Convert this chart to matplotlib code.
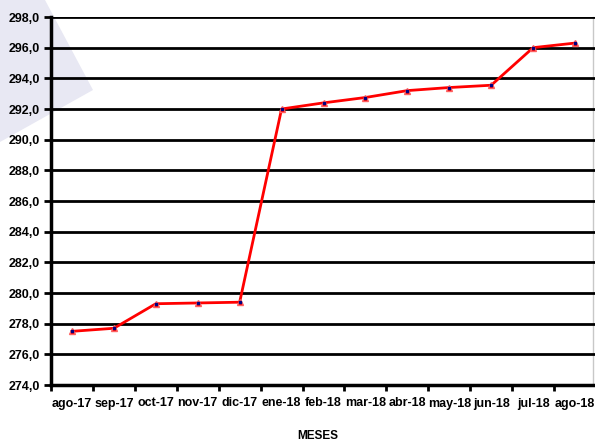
import matplotlib.pyplot as plt
from matplotlib.patches import Polygon

meses = ["ago-17", "sep-17", "oct-17", "nov-17", "dic-17", "ene-18", "feb-18",
         "mar-18", "abr-18", "may-18", "jun-18", "jul-18", "ago-18"]
valores = [277.5, 277.7, 279.3, 279.35, 279.4, 292.0, 292.4,
           292.75, 293.2, 293.4, 293.55, 296.0, 296.3]
y_ticks = [274, 276, 278, 280, 282, 284, 286, 288, 290, 292, 294, 296, 298]

plt.rcParams['font.family'] = ['Liberation Sans', 'DejaVu Sans']

fig = plt.figure(figsize=(5.95, 4.41), dpi=100)

# decoracion lila arriba a la izquierda
W, H = 595, 441
pts = [(0, 0), (45, 0), (93, 90), (0, 142)]
fig.patches.append(Polygon([(x / W, 1 - y / H) for x, y in pts], closed=True,
                           transform=fig.transFigure, facecolor="#e8e8f3",
                           edgecolor="none", zorder=-1))

ax = fig.add_axes([51 / W, 1 - 385 / H, 545 / W, 368 / H])
ax.set_zorder(2)
ax.patch.set_alpha(0)

x = list(range(len(meses)))
ax.plot(x, valores, color="red", lw=2, marker="^", ms=5,
        markerfacecolor="red", markeredgecolor="#ff6060", zorder=3)
ax.plot(x, valores, ls="none", marker="s", ms=1.5, color="#000080", zorder=4)

ax.set_ylim(274, 298)
ax.set_yticks(y_ticks)
ax.set_yticklabels([f"{v:.1f}".replace(".", ",") for v in y_ticks],
                   fontsize=9, fontweight="bold")
ax.set_xlim(-0.5, len(meses) - 0.5)
ax.set_xticks(x)
ax.set_xticklabels(meses, fontsize=9, fontweight="bold")
ax.set_xticks([i - 0.5 for i in range(len(meses) + 1)], minor=True)
ax.tick_params(axis="x", which="major", length=0, pad=9)
ax.tick_params(axis="x", which="minor", length=4, width=2, direction="out")
ax.tick_params(axis="y", length=5, width=2, direction="out", pad=3)

ax.grid(axis="y", color="black", lw=2)
ax.set_axisbelow(True)
for s in ["top", "right"]:
    ax.spines[s].set_visible(False)
ax.spines["left"].set_linewidth(2.5)
ax.spines["bottom"].set_linewidth(2.5)

fig.add_artist(plt.Line2D([593 / W, 593 / W], [1 - 17 / H, 1 - 385 / H],
                          color="#c8c8c8", lw=1, transform=fig.transFigure))

fig.text(318 / W, 1 - 430 / H, "MESES", ha="center", va="top",
         fontsize=8.5, fontweight="bold")

fig.savefig("out.png", dpi=100)
